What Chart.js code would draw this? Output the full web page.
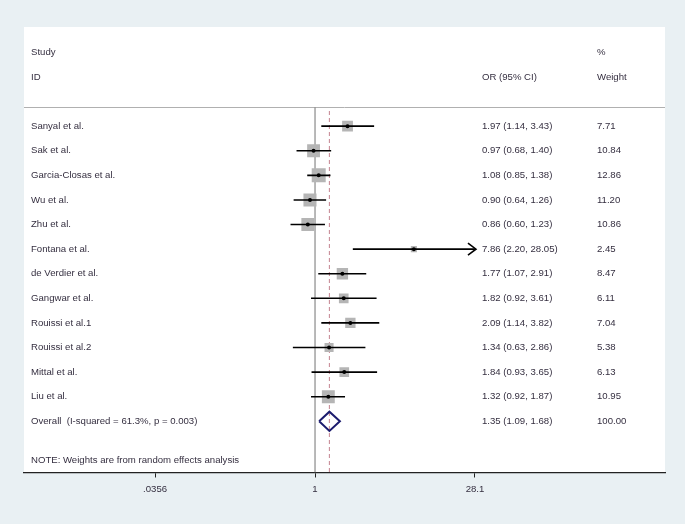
<!DOCTYPE html>
<html>
<head>
<meta charset="utf-8">
<script src="https://cdn.jsdelivr.net/npm/chart.js@4"></script>
<style>
  body { margin: 0; background: #e9f0f3; }
  canvas { display: block; }
</style>
</head>
<body>
<canvas id="forest" width="685" height="524"></canvas>
<script>
// study rows
const studies = ["Sanyal et al.", "Sak et al.", "Garcia-Closas et al.", "Wu et al.", "Zhu et al.",
  "Fontana et al.", "de Verdier et al.", "Gangwar et al.", "Rouissi et al.1", "Rouissi et al.2",
  "Mittal et al.", "Liu et al."];
const oddsRatio = [1.97, 0.97, 1.08, 0.90, 0.86, 7.86, 1.77, 1.82, 2.09, 1.34, 1.84, 1.32];
const ciLow = [1.14, 0.68, 0.85, 0.64, 0.60, 2.20, 1.07, 0.92, 1.14, 0.63, 0.93, 0.92];
const ciHigh = [3.43, 1.40, 1.38, 1.26, 1.23, 28.05, 2.91, 3.61, 3.82, 2.86, 3.65, 1.87];
const weights = [7.71, 10.84, 12.86, 11.20, 10.86, 2.45, 8.47, 6.11, 7.04, 5.38, 6.13, 10.95];

// pooled estimate
const overallLabel = "Overall  (I-squared = 61.3%, p = 0.003)";
const overall = [1.35, 1.09, 1.68];
const overallWeight = "100.00";
const note = "NOTE: Weights are from random effects analysis";

// x axis ticks
const xTickVals = [0.0356, 1, 28.1];
const xTickLabels = [".0356", "1", "28.1"];

const FONT = "'Liberation Sans', Arial, sans-serif";
const TEXT = "#352f40";
const overallRow = studies.length;

function fmt(v) { return v.toFixed(2); }

// build datasets
const datasets = [];

datasets.push({
  data: [{ x: 1, y: -0.77 }, { x: 1, y: 14.08 }],
  showLine: true, borderColor: "#8a8a8a", borderWidth: 1.2, pointRadius: 0, order: 10
});
datasets.push({
  data: [{ x: overall[0], y: -0.62 }, { x: overall[0], y: 14.08 }],
  showLine: true, borderColor: "#c98e9a", borderWidth: 1.1, borderDash: [4, 3], pointRadius: 0, order: 9
});

// weight squares
datasets.push({
  data: studies.map((s, i) => ({ x: oddsRatio[i], y: i })),
  pointStyle: "rect",
  pointRadius: weights.map(w => 3.9 * Math.sqrt(w) / Math.SQRT2),
  backgroundColor: "#b5b5b5", borderWidth: 0, order: 5
});

// confidence intervals
studies.forEach((s, i) => {
  datasets.push({
    data: [{ x: ciLow[i], y: i }, { x: ciHigh[i], y: i }],
    showLine: true, borderColor: "#000", borderWidth: 1.6, pointRadius: 0, order: 3
  });
});

// point estimates
datasets.push({
  data: studies.map((s, i) => ({ x: oddsRatio[i], y: i })),
  pointStyle: "circle", pointRadius: 2, backgroundColor: "#000", borderWidth: 0, order: 1
});

// overall diamond
const dh = 0.39;
datasets.push({
  data: [
    { x: overall[1], y: overallRow }, { x: overall[0], y: overallRow - dh },
    { x: overall[2], y: overallRow }, { x: overall[0], y: overallRow + dh },
    { x: overall[1], y: overallRow }
  ],
  showLine: true, borderColor: "#1c1c6e", borderWidth: 2, pointRadius: 0, order: 2
});

const panelPlugin = {
  id: "panel",
  beforeDraw(chart) {
    const { ctx, chartArea: a } = chart;
    ctx.save();
    ctx.fillStyle = "#fff";
    ctx.fillRect(a.left, a.top, a.right - a.left, a.bottom - a.top);
    const ys = chart.scales.y;
    const sy = Math.round(ys.getPixelForValue(-0.77)) + 0.5;
    ctx.strokeStyle = "#b0b0b0";
    ctx.lineWidth = 1;
    ctx.beginPath();
    ctx.moveTo(a.left, sy);
    ctx.lineTo(a.right, sy);
    ctx.stroke();
    ctx.restore();
  },
  afterDatasetsDraw(chart) {
    const { ctx } = chart;
    const xs = chart.scales.x, ys = chart.scales.y;
    ctx.save();
    // arrows for intervals running off the plotted range
    ctx.strokeStyle = "#000";
    ctx.lineWidth = 1.6;
    studies.forEach((s, i) => {
      if (ciHigh[i] >= xTickVals[2] * 0.99) {
        const px = xs.getPixelForValue(xTickVals[2]) + 1;
        const py = ys.getPixelForValue(i);
        ctx.beginPath();
        ctx.moveTo(px - 8, py - 6);
        ctx.lineTo(px, py);
        ctx.lineTo(px - 8, py + 6);
        ctx.stroke();
      }
    });

    // text columns
    ctx.fillStyle = TEXT;
    ctx.font = "9.6px " + FONT;
    ctx.textBaseline = "middle";
    ctx.textAlign = "left";
    const colName = 31, colOR = 482, colW = 597;
    ctx.fillText("Study", colName, ys.getPixelForValue(-3));
    ctx.fillText("ID", colName, ys.getPixelForValue(-2));
    ctx.fillText("OR (95% CI)", colOR, ys.getPixelForValue(-2));
    ctx.fillText("%", colW, ys.getPixelForValue(-3));
    ctx.fillText("Weight", colW, ys.getPixelForValue(-2));
    studies.forEach((s, i) => {
      const py = ys.getPixelForValue(i);
      ctx.fillText(s, colName, py);
      ctx.fillText(fmt(oddsRatio[i]) + " (" + fmt(ciLow[i]) + ", " + fmt(ciHigh[i]) + ")", colOR, py);
      ctx.fillText(fmt(weights[i]), colW, py);
    });
    const oy = ys.getPixelForValue(overallRow);
    ctx.fillText(overallLabel, colName, oy);
    ctx.fillText(fmt(overall[0]) + " (" + fmt(overall[1]) + ", " + fmt(overall[2]) + ")", colOR, oy);
    ctx.fillText(overallWeight, colW, oy);
    ctx.fillText(note, colName, ys.getPixelForValue(13.59));
    ctx.restore();
  }
};

new Chart(document.getElementById("forest"), {
  type: "scatter",
  data: { datasets },
  options: {
    responsive: false,
    animation: false,
    events: [],
    layout: { padding: { left: 24, right: 20, top: 27, bottom: 23 } },
    plugins: { legend: { display: false }, tooltip: { enabled: false } },
    elements: { line: { tension: 0 } },
    scales: {
      x: {
        type: "logarithmic",
        min: Math.pow(10, -2.636),
        max: Math.pow(10, 3.170),
        afterBuildTicks(scale) {
          scale.ticks = xTickVals.map(v => ({ value: v }));
        },
        ticks: {
          autoSkip: false, maxRotation: 0,
          padding: 6,
          color: TEXT,
          font: { family: FONT, size: 9.6 },
          callback: (v, idx) => xTickLabels[idx]
        },
        grid: { drawOnChartArea: false, drawTicks: true, tickLength: 5, tickColor: "#222" },
        border: { display: true, color: "#222", width: 1.3 }
      },
      y: {
        type: "linear", reverse: true, display: false,
        min: -4.03, max: 14.08
      }
    }
  },
  plugins: [panelPlugin]
});
</script>
</body>
</html>
